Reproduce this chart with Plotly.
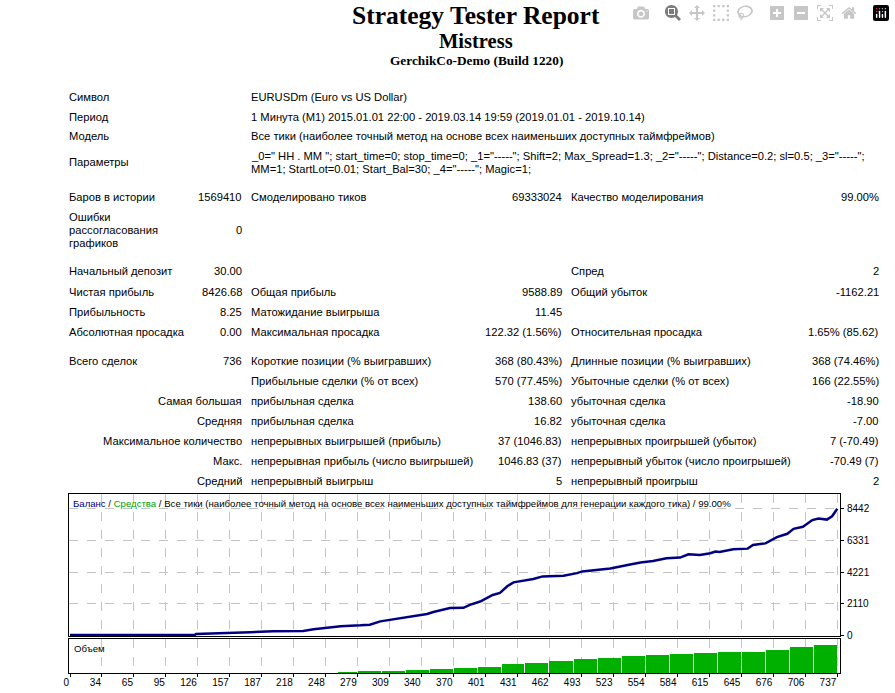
import plotly.graph_objects as go

# ---------------- data ----------------
trade_no = [0, 120, 121, 152, 173, 195, 224, 234, 260, 279, 288, 298, 310, 317, 324, 343, 349,
            365, 378, 384, 394, 400, 406, 413, 420, 426, 445, 454, 474, 487, 492, 519, 528, 538,
            548, 560, 573, 586, 594, 605, 615, 620, 624, 637, 651, 656, 668, 679, 689, 695, 704,
            713, 719, 727, 732, 737]
balance = [30, 40, 100, 152, 218, 284, 310, 415, 613, 679, 725, 943, 1075, 1187, 1253, 1431, 1563,
           1827, 1847, 2044, 2262, 2506, 2704, 2836, 3278, 3541, 3759, 3937, 3977, 4155, 4267, 4465,
           4570, 4729, 4861, 4966, 5144, 5190, 5408, 5362, 5474, 5586, 5560, 5738, 5784, 6021, 6133,
           6549, 6773, 7103, 7235, 7683, 7782, 7716, 7934, 8440]

vol_start = [257, 276, 299, 322, 345, 368, 391, 414, 437, 460, 484, 507, 530, 553, 576, 599, 622,
             645, 668, 691, 714]
vol_end = [276, 299, 322, 345, 368, 391, 414, 437, 460, 484, 507, 530, 553, 576, 599, 622, 645,
           668, 691, 714, 737]
vol_lots = [0.10, 0.13, 0.25, 0.35, 0.43, 0.50, 0.62, 0.90, 1.05, 1.20, 1.38, 1.55, 1.70, 1.83,
            1.90, 1.98, 2.07, 2.15, 2.35, 2.60, 2.85]

x_tick_labels = ["0", "34", "65", "95", "126", "157", "187", "218", "248", "279", "309", "340",
                 "370", "401", "431", "462", "493", "523", "554", "584", "615", "645", "676",
                 "706", "737"]
y_tick_vals = [0, 2110, 4221, 6331, 8442]

title_lines = ["Strategy Tester Report", "Mistress", "GerchikCo-Demo (Build 1220)"]

info_labels = ["Символ", "Период", "Модель", "Параметры"]
info_values = [
    "EURUSDm (Euro vs US Dollar)",
    "1 Минута (M1) 2015.01.01 22:00 - 2019.03.14 19:59 (2019.01.01 - 2019.10.14)",
    "Все тики (наиболее точный метод на основе всех наименьших доступных таймфреймов)",
]
param_lines = [
    '_0=" HH . MM "; start_time=0; stop_time=0; _1="-----"; Shift=2; Max_Spread=1.3; _2="-----"; Distance=0.2; sl=0.5; _3="-----";',
    'MM=1; StartLot=0.01; Start_Bal=30; _4="-----"; Magic=1;',
]

stats_a_labels = ["Баров в истории", "", "Начальный депозит", "Чистая прибыль", "Прибыльность",
                  "Абсолютная просадка", "Всего сделок", "", "Самая большая", "Средняя",
                  "Максимальное количество", "Макс.", "Средний"]
stats_a_values = ["1569410", "0", "30.00", "8426.68", "8.25", "0.00", "736", "", "", "", "", "", ""]
stats_b_labels = ["Смоделировано тиков", "", "", "Общая прибыль", "Матожидание выигрыша",
                  "Максимальная просадка", "Короткие позиции (% выигравших)",
                  "Прибыльные сделки (% от всех)", "прибыльная сделка", "прибыльная сделка",
                  "непрерывных выигрышей (прибыль)", "непрерывная прибыль (число выигрышей)",
                  "непрерывный выигрыш"]
stats_b_values = ["69333024", "", "", "9588.89", "11.45", "122.32 (1.56%)", "368 (80.43%)",
                  "570 (77.45%)", "138.60", "16.82", "37 (1046.83)", "1046.83 (37)", "5"]
stats_c_labels = ["Качество моделирования", "", "Спред", "Общий убыток", "",
                  "Относительная просадка", "Длинные позиции (% выигравших)",
                  "Убыточные сделки (% от всех)", "убыточная сделка", "убыточная сделка",
                  "непрерывных проигрышей (убыток)", "непрерывный убыток (число проигрышей)",
                  "непрерывный проигрыш"]
stats_c_values = ["99.00%", "", "2", "-1162.21", "", "1.65% (85.62)", "368 (74.46%)",
                  "166 (22.55%)", "-18.90", "-7.00", "7 (-70.49)", "-70.49 (7)", "2"]
errors_label = ["Ошибки", "рассогласования", "графиков"]

chart_header_rest = ("Все тики (наиболее точный метод на основе всех наименьших доступных "
                     "таймфреймов для генерации каждого тика) / 99.00%")

# ---------------- layout geometry (pixels) ----------------
FW, FH = 895, 693
L, R, T, B = 69, 840, 494, 673
PW, PH = R - L, B - T


def px(x):
    return (x - L) / PW


def py(y):
    return (B - y) / PH


FONT = "Liberation Sans"
CHART_FONT = "Liberation Sans"
FS = 11.2
CFS = 9.6
annotations = []


def txt(x, y, s, anchor="left", size=FS, family=FONT, color="black"):
    annotations.append(dict(x=px(x), y=py(y), xref="paper", yref="paper", text=s,
                            showarrow=False, xanchor=anchor, yanchor="middle",
                            font=dict(family=family, size=size, color=color), borderpad=0))


# titles
txt(476, 15, "<b>" + title_lines[0] + "</b>", "center", 25.5, "Liberation Serif")
txt(476, 41, "<b>" + title_lines[1] + "</b>", "center", 20.5, "Liberation Serif")
txt(476, 61, "<b>" + title_lines[2] + "</b>", "center", 13.3, "Liberation Serif")

# info rows
info_y = [97, 117, 136, 162]
for lab, yy in zip(info_labels, info_y):
    txt(68, yy, lab)
for val, yy in zip(info_values, info_y[:3]):
    txt(250, yy, val)
txt(250, 156, param_lines[0])
txt(250, 169, param_lines[1])

# stats rows
stats_y = [197, 230, 271, 292, 312, 332, 361, 381, 401, 421, 441, 461, 481]
for i, yy in enumerate(stats_y):
    la = stats_a_labels[i]
    if la:
        txt(68 if i < 7 else 243, yy, la, "left" if i < 7 else "right")
    if stats_a_values[i]:
        txt(243, yy, stats_a_values[i], "right")
    if stats_b_labels[i]:
        txt(250, yy, stats_b_labels[i])
    if stats_b_values[i]:
        txt(563, yy, stats_b_values[i], "right")
    if stats_c_labels[i]:
        txt(570, yy, stats_c_labels[i])
    if stats_c_values[i]:
        txt(880, yy, stats_c_values[i], "right")
for lab, yy in zip(errors_label, [217, 230, 243]):
    txt(68, yy, lab)

# chart captions
txt(72, 503, '<span style="color:#000080">Баланс</span> / '
             '<span style="color:#00a000">Средства</span> / ' + chart_header_rest,
    size=CFS, family=CHART_FONT)
txt(73, 648, "Объем", size=CFS, family=CHART_FONT)

# ---------------- traces ----------------
fig = go.Figure()
fig.add_trace(go.Scatter(x=trade_no, y=balance, mode="lines", xaxis="x2", yaxis="y",
                         line=dict(color="#000080", width=2.5), showlegend=False,
                         hoverinfo="skip"))
PX_PER_TRADE = 1.0415
fig.add_trace(go.Bar(x=[(a + b) / 2 for a, b in zip(vol_start, vol_end)], y=vol_lots,
                     width=[b - a - 1 / PX_PER_TRADE for a, b in zip(vol_start, vol_end)],
                     xaxis="x", yaxis="y2", marker=dict(color="#00b000", line=dict(width=0)),
                     showlegend=False, hoverinfo="skip"))

tickpos = [i * 737 / 24 for i in range(25)]
x_range = [(L - 0.3 - 69.7) / PX_PER_TRADE, (R - 69.7) / PX_PER_TRADE]
grid = dict(showgrid=True, gridcolor="#c4c4c4", griddash="dash", gridwidth=1)

main_bottom = 636
vol_top = 639
y_main_range = [-30, 9420]
vol_range = [0, 3.4]
tickfont = dict(family=CHART_FONT, size=10, color="black")

fig.update_layout(
    width=FW, height=FH, autosize=False,
    margin=dict(l=L, r=FW - R, t=T, b=FH - B, pad=0, autoexpand=False),
    paper_bgcolor="white", plot_bgcolor="white",
    font=dict(family=FONT, size=FS, color="black"),
    bargap=0,
    xaxis=dict(domain=[0, 1], anchor="y2", range=x_range, tickvals=tickpos,
               ticktext=x_tick_labels, ticks="outside", ticklen=3, tickcolor="black",
               showline=True, linecolor="black", linewidth=1, mirror=True, zeroline=False,
               ticklabelposition="outside left", tickfont=tickfont, automargin=False, **grid),
    xaxis2=dict(domain=[0, 1], anchor="y", matches="x", range=x_range, tickvals=tickpos,
                showticklabels=False, ticks="", showline=True, linecolor="black",
                linewidth=1, mirror=True, zeroline=False, automargin=False, **grid),
    yaxis=dict(domain=[(B - main_bottom) / PH, 1], anchor="x2", side="right",
               range=y_main_range, tickvals=y_tick_vals, ticks="outside", ticklen=3,
               tickcolor="black", showline=True, linecolor="black", linewidth=1,
               mirror=True, zeroline=False, ticklabelstandoff=1, tickfont=tickfont,
               automargin=False, **grid),
    yaxis2=dict(domain=[0, (B - vol_top) / PH], anchor="x", range=vol_range,
                showticklabels=False, ticks="", showgrid=False, showline=True,
                linecolor="black", linewidth=1, mirror=True, zeroline=False,
                automargin=False),
    annotations=annotations,
)

fig.write_html("out.html", post_script="document.body.style.margin='0';")
